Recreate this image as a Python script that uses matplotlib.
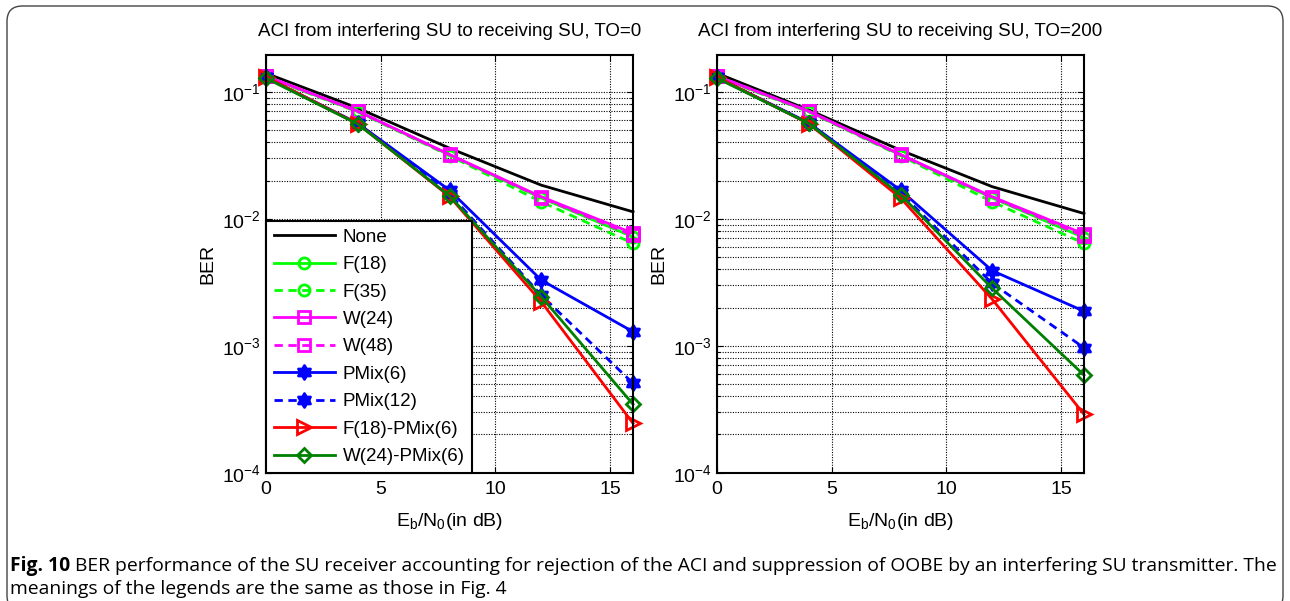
import numpy as np
import matplotlib
matplotlib.use("Agg")
import matplotlib.pyplot as plt
from matplotlib.path import Path
from matplotlib.patches import FancyBboxPatch

plt.rcParams['font.family'] = ['Liberation Sans', 'DejaVu Sans']
plt.rcParams['mathtext.default'] = 'regular'

snr = [0, 4, 8, 12, 16]
labels = ["None", "F(18)", "F(35)", "W(24)", "W(48)", "PMix(6)", "PMix(12)",
          "F(18)-PMix(6)", "W(24)-PMix(6)"]
titles = ["ACI from interfering SU to receiving SU, TO=0",
          "ACI from interfering SU to receiving SU, TO=200"]

# TO = 0
ber0_none   = [0.140, 0.0745, 0.0360, 0.0184, 0.01135]
ber0_f18    = [0.132, 0.0700, 0.0318, 0.0146, 0.0072]
ber0_f35    = [0.131, 0.0695, 0.0314, 0.0136, 0.0064]
ber0_w24    = [0.133, 0.0705, 0.0321, 0.0149, 0.0077]
ber0_w48    = [0.133, 0.0703, 0.0319, 0.0147, 0.0074]
ber0_pm6    = [0.130, 0.0565, 0.0168, 0.00329, 0.00129]
ber0_pm12   = [0.130, 0.0560, 0.0158, 0.00250, 0.000506]
ber0_fpm    = [0.131, 0.0560, 0.0150, 0.00222, 0.000245]
ber0_wpm    = [0.128, 0.0557, 0.0152, 0.00243, 0.000346]

# TO = 200
ber1_none   = [0.140, 0.0720, 0.0347, 0.0179, 0.0110]
ber1_f18    = [0.132, 0.0700, 0.0318, 0.0146, 0.0071]
ber1_f35    = [0.131, 0.0695, 0.0314, 0.0136, 0.0064]
ber1_w24    = [0.133, 0.0705, 0.0321, 0.0149, 0.0076]
ber1_w48    = [0.133, 0.0703, 0.0319, 0.0147, 0.0073]
ber1_pm6    = [0.130, 0.0570, 0.0168, 0.00390, 0.00187]
ber1_pm12   = [0.130, 0.0565, 0.0160, 0.00310, 0.000964]
ber1_fpm    = [0.131, 0.0560, 0.0146, 0.00232, 0.000288]
ber1_wpm    = [0.128, 0.0564, 0.0155, 0.00283, 0.000587]

data = [
    [ber0_none, ber0_f18, ber0_f35, ber0_w24, ber0_w48, ber0_pm6, ber0_pm12, ber0_fpm, ber0_wpm],
    [ber1_none, ber1_f18, ber1_f35, ber1_w24, ber1_w48, ber1_pm6, ber1_pm12, ber1_fpm, ber1_wpm],
]

# hexagram marker
ang = np.pi / 2 + np.arange(12) * np.pi / 6
rad = np.where(np.arange(12) % 2 == 0, 1.0, 1 / np.sqrt(3))
verts = np.column_stack([rad * np.cos(ang), rad * np.sin(ang)])
verts = np.vstack([verts, verts[:1]])
hexagram = Path(verts, closed=True)

dash = (0, (3, 2))
styles = [
    dict(color='black', ls='-', marker=None, ms=0, fill=False),
    dict(color=(0, 1, 0), ls='-', marker='o', ms=8, fill=False),
    dict(color=(0, 1, 0), ls=dash, marker='o', ms=8, fill=False),
    dict(color=(1, 0, 1), ls='-', marker='s', ms=9, fill=False),
    dict(color=(1, 0, 1), ls=dash, marker='s', ms=9, fill=False),
    dict(color=(0, 0, 1), ls='-', marker=hexagram, ms=10, fill=True),
    dict(color=(0, 0, 1), ls=dash, marker=hexagram, ms=10, fill=True),
    dict(color=(1, 0, 0), ls='-', marker='>', ms=10, fill=False),
    dict(color=(0, 0.5, 0), ls='-', marker='D', ms=7.5, fill=False),
]

fig = plt.figure(figsize=(12.9, 6.01), dpi=100)

# outer rounded frame
frame = FancyBboxPatch((7 / 1290, -10 / 601), 1276 / 1290, 605 / 601,
                       boxstyle="round,pad=0,rounding_size=0.012",
                       transform=fig.transFigure, fill=False,
                       edgecolor='#444444', lw=1.0, mutation_aspect=1290 / 601)
fig.patches.append(frame)

lefts = [266 / 1290, 717 / 1290]
for k in range(2):
    ax = fig.add_axes([lefts[k], 1 - 472.7 / 601, 367 / 1290, (472.7 - 55) / 601])
    for j in range(9):
        st = styles[j]
        ax.plot(snr, data[k][j], color=st['color'], linestyle=st['ls'], lw=2,
                marker=st['marker'], ms=st['ms'],
                mfc=st['color'] if st['fill'] else 'none', mec=st['color'],
                mew=2, label=labels[j], clip_on=False)
    ax.set_yscale('log')
    ax.set_xlim(0, 16)
    ax.set_ylim(1e-4, 0.195)
    ax.set_xticks([0, 5, 10, 15])
    ax.grid(True, which='major', color='black', linestyle=(0, (1, 1.3)), lw=0.8)
    ax.grid(True, which='minor', axis='y', color='black', linestyle=(0, (1, 1.3)), lw=0.8)
    ax.tick_params(which='both', direction='in', labelsize=14, length=4, width=0.8,
                   top=True, right=True)
    ax.tick_params(which='minor', length=2)
    ax.tick_params(axis='x', pad=6)
    for sp in ax.spines.values():
        sp.set_linewidth(1.5)
    ax.set_title(titles[k], fontsize=13.5, pad=14)
    ax.set_ylabel('BER', fontsize=14, labelpad=4)
    ax.set_xlabel('$E_b/N_0$(in dB)', fontsize=14, labelpad=9)
    if k == 0:
        leg = ax.legend(loc='lower left', bbox_to_anchor=(0, 0), borderaxespad=0,
                        fontsize=13.5, handlelength=3.3, handletextpad=0.4,
                        labelspacing=0.55, borderpad=0.4, fancybox=False,
                        framealpha=1, edgecolor='black')
        leg.get_frame().set_linewidth(1.5)

cap_fs = 13.85
cy1 = 1 - 566 / 601
cy2 = 1 - 589 / 601
t0 = fig.text(10 / 1290, cy1, 'Fig. 10', fontsize=cap_fs, fontweight='bold',
              family='Open Sans', va='center', ha='left')
fig.canvas.draw()
bb = t0.get_window_extent(renderer=fig.canvas.get_renderer())
fig.text((bb.x1 + 5) / 1290, cy1,
         'BER performance of the SU receiver accounting for rejection of the ACI and '
         'suppression of OOBE by an interfering SU transmitter. The',
         fontsize=cap_fs, family='Open Sans', va='center', ha='left')
fig.text(10 / 1290, cy2, 'meanings of the legends are the same as those in Fig. 4',
         fontsize=cap_fs, family='Open Sans', va='center', ha='left')

fig.savefig('out.png', dpi=100)
